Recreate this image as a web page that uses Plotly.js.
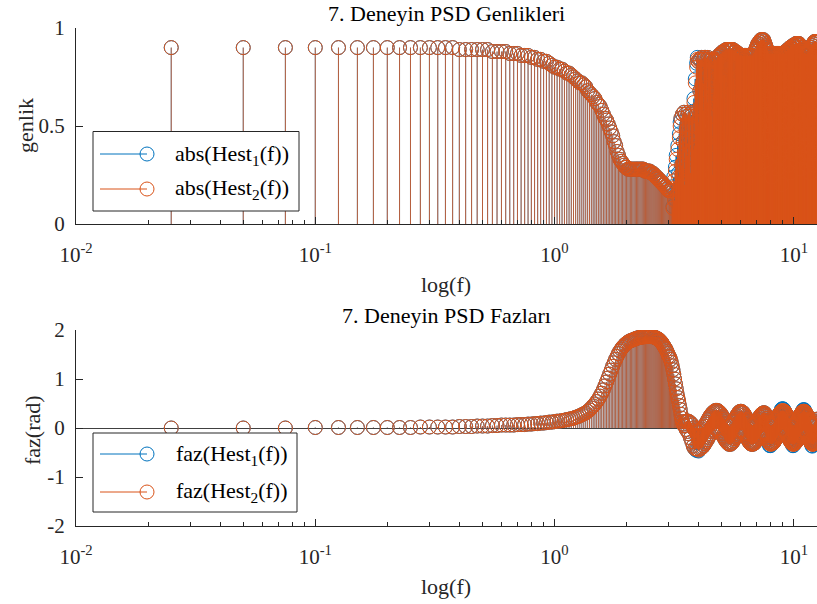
<!DOCTYPE html>
<html>
<head>
<meta charset="utf-8">
<script src="https://cdn.plot.ly/plotly-3.0.1.min.js"></script>
<style>html,body{margin:0;padding:0;background:#fff}#chart{width:817px;height:604px}</style>
</head>
<body>
<div id="chart"></div>
<script>
// Frequency grid step (Hz); sample k is at k*freqStep, k = 1..500
const freqStep = 0.025;

// |Hest1(f)| in hundredths
const magHest1Pct = [
90,90,90,90,90,90,90,90,90,90,90,90,
90,90,90,89,89,89,89,89,
89,88,88,88,88,87,87,87,
86,86,86,85,85,84,84,83,
83,82,81,80,
80,79,79,78,77,77,76,75,
74,73,72,72,71,70,68,67,
66,65,64,62,61,60,58,56,
54,53,51,49,47,45,42,40,
37,35,33,32,31,30,29,29,
28,28,28,28,28,28,28,28,
28,28,28,28,28,28,27,27,27,27,27,27,
26,26,26,25,25,24,24,23,23,22,
22,21,21,20,20,19,19,18,18,17,17,17,17,
19,9,24,13,29,
35,17,40,26,46,52,
54,30,56,42,57,20,56,48,55,35,57,44,56,26,55,50,57,38,
64,42,74,58,82,85,
83,50,84,68,84,30,85,72,84,58,85,44,85,76,84,62,85,
84,40,83,70,84,55,84,25,83,66,84,48,84,74,83,35,
85,60,86,42,86,72,87,30,87,64,88,50,88,76,88,20,89,58,89,70,89,45,89,80,89,33,89,66,89,
89,52,89,74,88,38,88,62,88,80,87,28,87,68,87,50,86,76,86,40,
86,64,86,30,86,72,85,48,86,78,86,22,86,60,86,44,86,70,86,36,86,66,86,52,86,80,86,26,86,58,87,46,
87,70,88,34,89,62,90,48,91,76,92,28,92,66,93,54,93,80,94,40,94,70,94,56,94,82,94,32,93,64,92,50,91,74,90,38,89,68,
88,56,87,72,87,30,87,64,87,46,87,78,87,24,87,60,87,50,87,74,87,36,87,68,87,42,87,80,87,28,87,62,87,54,87,76,87,34,87,66,87,48,87,72,87,20,87,58,87,44,87,78,87,38,87,64,87,52,88,70,
88,40,88,66,88,52,89,76,89,30,89,62,89,46,90,80,90,26,90,70,90,56,90,74,91,36,91,64,91,50,
91,78,91,42,91,68,92,54,92,82,92,32,92,60,92,48,92,76,92,38,92,66,91,52,91,80,90,28,90,62,89,46,89,74,88,34,88,68,87,56,
87,72,87,40,87,64,87,50,87,78,87,30,87,60,87,46,88,74,88,36,88,66,88,54,88,80,89,26,89,62,
89,48,90,76,90,38,91,68,91,52,92,82,92,30,92,64,93,46,93,74,93,36,93,70,93,56,93,80,93,42
];

// |Hest2(f)| in hundredths
const magHest2Pct = [
90,90,90,90,90,90,90,90,90,90,90,90,
90,90,90,89,89,89,89,89,
89,88,88,88,88,87,87,87,
86,86,86,85,85,84,84,83,
83,82,81,80,
80,79,79,78,77,77,76,75,
74,73,72,72,71,70,68,67,
66,65,64,62,61,60,58,56,
54,53,51,49,47,45,42,40,
37,35,33,32,31,30,29,29,
28,28,28,28,28,28,28,28,
28,28,28,28,28,28,27,27,27,27,27,27,
26,26,26,25,25,24,24,23,23,22,
22,21,21,20,20,19,19,18,18,17,17,17,17,
18,8,22,12,27,
33,15,38,24,44,50,
54,30,56,42,57,20,56,48,55,35,57,44,56,26,55,50,57,38,
62,40,72,55,80,84,
83,50,84,68,84,30,85,72,84,58,85,44,85,76,84,62,85,
84,40,83,70,84,55,84,25,83,66,84,48,84,74,83,35,
85,60,86,42,86,72,87,30,87,64,88,50,88,76,88,20,89,58,89,70,89,45,89,80,89,33,89,66,89,
89,52,89,74,88,38,88,62,88,80,87,28,87,68,87,50,86,76,86,40,
86,64,86,30,86,72,85,48,86,78,86,22,86,60,86,44,86,70,86,36,86,66,86,52,86,80,86,26,86,58,87,46,
87,70,88,34,89,62,90,48,91,76,92,28,92,66,93,54,93,80,94,40,94,70,94,56,94,82,94,32,93,64,92,50,91,74,90,38,89,68,
88,56,87,72,87,30,87,64,87,46,87,78,87,24,87,60,87,50,87,74,87,36,87,68,87,42,87,80,87,28,87,62,87,54,87,76,87,34,87,66,87,48,87,72,87,20,87,58,87,44,87,78,87,38,87,64,87,52,88,70,
88,40,88,66,88,52,89,76,89,30,89,62,89,46,90,80,90,26,90,70,90,56,90,74,91,36,91,64,91,50,
91,78,91,42,91,68,92,54,92,82,92,32,92,60,92,48,92,76,92,38,92,66,91,52,91,80,90,28,90,62,89,46,89,74,88,34,88,68,87,56,
87,72,87,40,87,64,87,50,87,78,87,30,87,60,87,46,88,74,88,36,88,66,88,54,88,80,89,26,89,62,
89,48,90,76,90,38,91,68,91,52,92,82,92,30,92,64,93,46,93,74,93,36,93,70,93,56,93,80,93,42
];

// faz(Hest1(f)) in hundredths of a radian
const phaseHest1Pct = [
0,0,0,1,1,1,1,1,1,1,2,2,
2,2,2,3,3,3,4,4,4,5,5,6,
6,6,6,7,7,7,8,8,
9,9,10,10,11,12,12,13,
14,14,15,16,17,18,19,20,
22,23,25,27,29,31,34,37,
41,45,49,54,59,65,71,78,
86,94,102,110,118,126,133,140,
146,152,157,161,165,168,171,173,
175,177,178,179,180,181,182,183,
184,184,185,185,186,188,188,189,189,189,189,189,
188,188,186,186,185,184,183,182,181,179,
177,175,172,169,166,163,160,156,152,147,
145,140,134,127,119,110,100,90,80,70,62,55,
46,38,28,20,13,8,5,4,
13,-3,14,-7,14,-12,12,-20,9,-28,
6,-37,0,-42,-4,-45,-6,-46,
-7,-47,-6,-43,-4,-41,-2,-39,1,-36,4,-32,8,-28,12,-24,17,-19,21,-15,25,-12,28,-8,31,-6,33,-4,35,-2,36,-2,
36,-2,35,-4,33,-6,31,-9,28,-12,24,-16,21,-19,17,-23,13,-26,10,-29,8,-31,6,-33,5,-33,
5,-33,6,-31,8,-29,11,-26,14,-22,18,-19,21,-15,25,-11,28,-8,31,-6,33,-4,34,-4,
34,-4,33,-5,32,-7,30,-10,27,-12,24,-15,21,-19,18,-22,15,-25,12,-28,9,-30,7,-32,6,-33,5,-33,
5,-33,6,-32,7,-31,8,-29,10,-27,12,-25,14,-23,17,-20,19,-17,22,-15,24,-13,26,-11,28,-9,29,-8,30,-7,31,-7,
31,-8,30,-10,27,-12,24,-16,20,-20,16,-24,12,-28,9,-35,6,-36,5,-36,
5,-33,5,-32,6,-31,7,-30,9,-29,10,-27,12,-25,14,-23,17,-20,19,-18,21,-16,23,-13,26,-11,28,-9,30,-7,31,-6,33,-5,38,-4,39,-3,39,-3,
39,-3,38,-4,34,-5,33,-6,31,-8,29,-10,27,-12,25,-14,22,-17,20,-19,18,-22,15,-24,13,-26,11,-28,9,-30,7,-31,6,-32,5,-36,5,-36,
5,-33,5,-32,6,-32,7,-30,8,-29,10,-28,11,-26,13,-24,15,-22,17,-20,20,-17,22,-15,24,-13,26,-11,28,-9,29,-8,31,-7,32,-5,33,-5,37,-4,37,-4,
37,-4,37,-5,33,-6,32,-7,30,-8,29,-10,27,-12,25,-14,23,-16,21,-19,18,-21,16,-23,14,-25,12,-27,10,-29,8,-30,7,-31,6,-36,5,-37,5,-33,
5,-33,5,-32,6,-31,7,-30,9,-29,10,-27,12,-25,14,-23,17,-21,18,-19
];

// faz(Hest2(f)) in hundredths of a radian
const phaseHest2Pct = [
0,0,0,1,1,1,1,1,1,1,2,2,
2,2,2,3,3,3,4,4,4,5,5,6,
6,6,6,7,7,7,8,8,
9,9,10,10,11,12,12,13,
14,14,15,16,17,18,19,20,
22,23,25,27,29,31,34,37,
41,45,49,54,59,65,71,78,
86,94,102,110,118,126,133,140,
146,152,157,161,165,168,171,173,
175,177,178,179,180,181,182,183,
184,184,185,185,186,186,186,187,187,187,187,187,
187,187,186,186,185,184,183,182,181,179,
177,175,172,169,166,163,160,156,152,147,
145,140,134,127,119,110,100,90,80,70,62,55,
46,38,28,20,13,8,5,4,
13,-3,14,-7,14,-12,12,-20,9,-28,
6,-37,0,-42,-4,-42,-6,-43,
-7,-45,-6,-43,-4,-41,-2,-39,1,-36,4,-32,8,-28,12,-24,17,-19,21,-15,25,-12,28,-8,31,-6,33,-4,35,-2,36,-2,
36,-2,35,-4,33,-6,31,-9,28,-12,24,-16,21,-19,17,-23,13,-26,10,-29,8,-31,6,-33,5,-33,
5,-33,6,-31,8,-29,11,-26,14,-22,18,-19,21,-15,25,-11,28,-8,31,-6,33,-4,34,-4,
34,-4,33,-5,32,-7,30,-10,27,-12,24,-15,21,-19,18,-22,15,-25,12,-28,9,-30,7,-32,6,-33,5,-33,
5,-33,6,-32,7,-31,8,-29,10,-27,12,-25,14,-23,17,-20,19,-17,22,-15,24,-13,26,-11,28,-9,29,-8,30,-7,31,-7,
31,-8,30,-10,27,-12,24,-16,20,-20,16,-24,12,-28,9,-31,6,-32,5,-33,
5,-33,5,-32,6,-31,7,-30,9,-29,10,-27,12,-25,14,-23,17,-20,19,-18,21,-16,23,-13,26,-11,28,-9,30,-7,31,-6,33,-5,34,-4,35,-3,35,-3,
35,-3,35,-4,34,-5,33,-6,31,-8,29,-10,27,-12,25,-14,22,-17,20,-19,18,-22,15,-24,13,-26,11,-28,9,-30,7,-31,6,-32,5,-33,5,-33,
5,-33,5,-32,6,-32,7,-30,8,-29,10,-28,11,-26,13,-24,15,-22,17,-20,20,-17,22,-15,24,-13,26,-11,28,-9,29,-8,31,-7,32,-5,33,-5,34,-4,34,-4,
34,-4,34,-5,33,-6,32,-7,30,-8,29,-10,27,-12,25,-14,23,-16,21,-19,18,-21,16,-23,14,-25,12,-27,10,-29,8,-30,7,-31,6,-32,5,-33,5,-33,
5,-33,5,-32,6,-31,7,-30,9,-29,10,-27,12,-25,14,-23,17,-21,18,-19
];

const xTickVals = [0.01, 0.1, 1, 10];
const xTickText = ['10<sup>-2</sup>', '10<sup>-1</sup>', '10<sup>0</sup>', '10<sup>1</sup>'];
const magTickVals = [0, 0.5, 1];
const magTickText = ['0', '0.5', '1'];
const phaseTickVals = [-2, -1, 0, 1, 2];
const phaseTickText = ['-2', '-1', '0', '1', '2'];
const titles = ['7. Deneyin PSD Genlikleri', '7. Deneyin PSD Fazları'];
const legendMag = ['abs(Hest<sub>1</sub>(f))', 'abs(Hest<sub>2</sub>(f))'];
const legendPhase = ['faz(Hest<sub>1</sub>(f))', 'faz(Hest<sub>2</sub>(f))'];

const toUnit = a => a.map(v => v / 100);
const magHest1 = toUnit(magHest1Pct), magHest2 = toUnit(magHest2Pct);
const phaseHest1 = toUnit(phaseHest1Pct), phaseHest2 = toUnit(phaseHest2Pct);
const freq = magHest2.map((_, i) => (i + 1) * freqStep);

// style: where the dense (noisy) part starts, to draw its stems a bit heavier
const magDenseFrom = 123, phaseDenseFrom = 140;

const BLUE = '#0072BD', ORANGE = '#D95319', AX = '#262626';
const FONT = 'Liberation Serif, Times New Roman, serif';
const W = 817, H = 604;
const px = x => x / W, py = y => 1 - y / H;

function stems(v, color, xa, ya, from, to, width) {
  const xs = [], ys = [];
  for (let i = from; i < to; i++) { xs.push(freq[i], freq[i], null); ys.push(0, v[i], null); }
  return {x: xs, y: ys, xaxis: xa, yaxis: ya, type: 'scatter', mode: 'lines',
    line: {color: color, width: width}, hoverinfo: 'skip', showlegend: false};
}
function marks(v, color, xa, ya) {
  return {x: freq, y: v, xaxis: xa, yaxis: ya, type: 'scatter', mode: 'markers',
    marker: {symbol: 'circle-open', size: 14, color: color, line: {width: 1, color: color}},
    showlegend: false};
}
function series(v, color, xa, ya, split) {
  return [stems(v, color, xa, ya, 0, split, 0.8), stems(v, color, xa, ya, split, v.length, 1.6), marks(v, color, xa, ya)];
}

const data = [].concat(
  series(magHest1, BLUE, 'x', 'y', magDenseFrom),
  series(magHest2, ORANGE, 'x', 'y', magDenseFrom),
  series(phaseHest1, BLUE, 'x2', 'y2', phaseDenseFrom),
  series(phaseHest2, ORANGE, 'x2', 'y2', phaseDenseFrom)
);

const minorVals = [];
[0.01, 0.1, 1].forEach(d => { for (let m = 2; m <= 9; m++) minorVals.push(d * m); });

function xAxis(anchor) {
  return {
    type: 'log', range: [-2, Math.log10(12.5)], domain: [px(76), 1], anchor: anchor,
    showline: true, linecolor: AX, linewidth: 1, mirror: false,
    ticks: 'inside', ticklen: 7, tickwidth: 1, tickcolor: AX,
    tickmode: 'array', tickvals: xTickVals, ticktext: xTickText,
    tickfont: {family: FONT, size: 21, color: AX}, ticklabelstandoff: 12,
    minor: {tickvals: minorVals, ticks: 'inside', ticklen: 4, tickwidth: 1, tickcolor: AX, showgrid: false},
    showgrid: false, zeroline: false, fixedrange: true
  };
}
function yAxis(anchor, dom, range, tv, tt, zl) {
  return {
    domain: dom, range: range, anchor: anchor,
    showline: true, linecolor: AX, linewidth: 1,
    ticks: 'inside', ticklen: 7, tickwidth: 1, tickcolor: AX,
    tickmode: 'array', tickvals: tv, ticktext: tt,
    tickfont: {family: FONT, size: 21, color: AX}, ticklabelstandoff: 6,
    showgrid: false, zeroline: zl, zerolinecolor: '#404040', zerolinewidth: 1, fixedrange: true
  };
}

function ann(text, x, y, opts) {
  return Object.assign({text: text, x: px(x), y: py(y), xref: 'paper', yref: 'paper',
    showarrow: false, xanchor: 'center', yanchor: 'middle',
    font: {family: FONT, size: 22, color: '#000'}}, opts || {});
}

const annotations = [
  ann(titles[0], 446, 13),
  ann(titles[1], 446, 315),
  ann('log(f)', 446, 284, {font: {family: FONT, size: 22, color: AX}}),
  ann('log(f)', 446, 586, {font: {family: FONT, size: 22, color: AX}}),
  ann('genlik', 25, 126, {textangle: -90, font: {family: FONT, size: 22, color: AX}}),
  ann('faz(rad)', 32, 430, {textangle: -90, font: {family: FONT, size: 22, color: AX}}),
  ann(legendMag[0], 173, 155, {xanchor: 'left'}),
  ann(legendMag[1], 173, 189, {xanchor: 'left'}),
  ann(legendPhase[0], 174, 455, {xanchor: 'left'}),
  ann(legendPhase[1], 174, 492, {xanchor: 'left'})
];

function legendBox(x0, y0, x1, y1, rows) {
  const s = [{type: 'rect', xref: 'paper', yref: 'paper', x0: px(x0), x1: px(x1), y0: py(y1), y1: py(y0),
    line: {color: AX, width: 1}, fillcolor: '#ffffff', layer: 'above'}];
  rows.forEach(r => {
    s.push({type: 'line', xref: 'paper', yref: 'paper', x0: px(100), x1: px(147), y0: py(r[0]), y1: py(r[0]),
      line: {color: r[1], width: 1}, layer: 'above'});
    s.push({type: 'circle', xref: 'paper', yref: 'paper', xsizemode: 'pixel', ysizemode: 'pixel',
      xanchor: px(147), yanchor: py(r[0]), x0: -7, x1: 7, y0: -7, y1: 7,
      line: {color: r[1], width: 1}, fillcolor: 'rgba(0,0,0,0)', layer: 'above'});
  });
  return s;
}
const shapes = [].concat(
  legendBox(93, 131.5, 299, 211, [[154, BLUE], [189, ORANGE]]),
  legendBox(93, 433, 297, 512, [[454, BLUE], [492, ORANGE]])
);

const layout = {
  width: W, height: H, margin: {l: 0, r: 0, t: 0, b: 0},
  paper_bgcolor: '#ffffff', plot_bgcolor: '#ffffff', showlegend: false,
  xaxis: xAxis('y'), xaxis2: xAxis('y2'),
  yaxis: yAxis('x', [py(224), py(28)], [0, 1], magTickVals, magTickText, false),
  yaxis2: yAxis('x2', [py(526), py(330)], [-2, 2], phaseTickVals, phaseTickText, true),
  annotations: annotations, shapes: shapes, hovermode: false
};

Plotly.newPlot('chart', data, layout, {staticPlot: true, displayModeBar: false});
</script>
</body>
</html>
